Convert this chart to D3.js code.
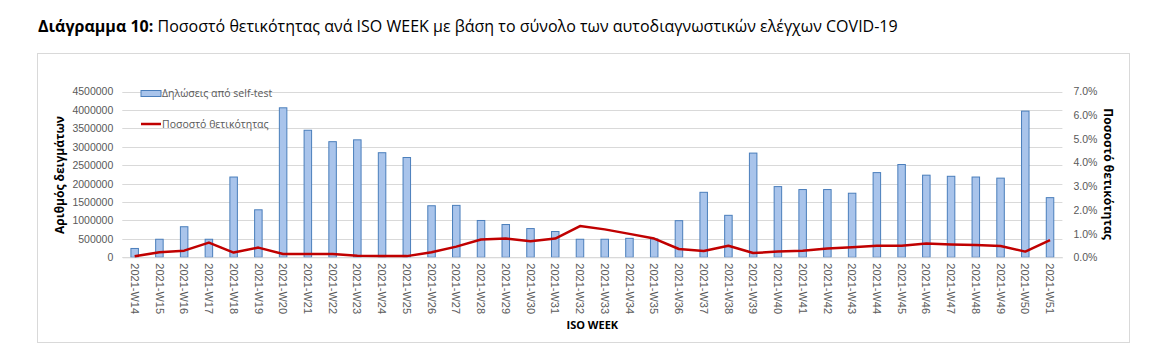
<!DOCTYPE html>
<html lang="el">
<head>
<meta charset="utf-8">
<script src="https://d3js.org/d3.v7.min.js"></script>
<style>
  body { margin: 0; background: #fff; }
  svg { font-family: "Open Sans", sans-serif; }
  .tick text { fill: #595959; font-size: 10.5px; }
  .grid line { stroke: #d9d9d9; }
</style>
</head>
<body>
<svg id="chart" width="1161" height="359"></svg>
<script>
// weeks on the x axis
var weeks = ["2021-W14","2021-W15","2021-W16","2021-W17","2021-W18","2021-W19","2021-W20","2021-W21",
  "2021-W22","2021-W23","2021-W24","2021-W25","2021-W26","2021-W27","2021-W28","2021-W29","2021-W30",
  "2021-W31","2021-W32","2021-W33","2021-W34","2021-W35","2021-W36","2021-W37","2021-W38","2021-W39",
  "2021-W40","2021-W41","2021-W42","2021-W43","2021-W44","2021-W45","2021-W46","2021-W47","2021-W48",
  "2021-W49","2021-W50","2021-W51"];

// self-test declarations (bars, left axis)
var selfTests = [240000,490000,830000,490000,2180000,1290000,4060000,3450000,
  3140000,3190000,2840000,2710000,1400000,1410000,1000000,890000,780000,
  700000,490000,490000,515000,500000,995000,1765000,1140000,2830000,
  1920000,1840000,1840000,1740000,2300000,2520000,2230000,2200000,2180000,
  2150000,3970000,1620000];

// positivity rate (line, right axis)
var positivity = [0.0004,0.0021,0.0028,0.0062,0.0020,0.0041,0.0014,0.0014,
  0.0014,0.0007,0.0005,0.0005,0.0021,0.0045,0.0075,0.0079,0.0068,
  0.0079,0.0132,0.0118,0.0099,0.0079,0.0035,0.0027,0.0049,0.0018,
  0.0024,0.0028,0.0037,0.0042,0.0049,0.0049,0.0058,0.0054,0.0052,
  0.0048,0.0024,0.0073];

var leftTicks = d3.range(0, 4500001, 500000);
var rightTicks = [0,0.01,0.02,0.03,0.04,0.05,0.06,0.07];

var titleBold = "Διάγραμμα 10:";
var titleRest = " Ποσοστό θετικότητας ανά ISO WEEK με βάση το σύνολο των αυτοδιαγνωστικών ελέγχων COVID-19";

// plot area (window.top is reserved, so no plain "top")
var plotLeft = 122.3, plotRight = 1062.4, plotTop = 91.6, plotBottom = 257.3;

var svg = d3.select("#chart");

// title
var title = svg.append("text")
  .attr("x", 38).attr("y", 32)
  .attr("fill", "#000")
  .style("font-size", "15px");
title.append("tspan").attr("font-weight", "bold").text(titleBold);
title.append("tspan").text(titleRest);
// squeeze font size so the title ends where the reference one does
var tw = title.node().getComputedTextLength();
title.style("font-size", (15 * 860 / tw) + "px");

// chart frame
svg.append("rect")
  .attr("x", 37.5).attr("y", 53.5)
  .attr("width", 1092).attr("height", 289)
  .attr("fill", "none").attr("stroke", "#d9d9d9");

var x = d3.scaleBand().domain(weeks).range([plotLeft, plotRight]);
var y = d3.scaleLinear().domain([0, 4500000]).range([plotBottom, plotTop]);
var y2 = d3.scaleLinear().domain([0, 0.07]).range([plotBottom, plotTop]);

// gridlines
svg.append("g").attr("class", "grid")
  .selectAll("line").data(leftTicks).enter().append("line")
  .attr("x1", plotLeft).attr("x2", plotRight)
  .attr("y1", function(d) { return Math.round(y(d)) + 0.5; })
  .attr("y2", function(d) { return Math.round(y(d)) + 0.5; });

// left axis
var yAxis = svg.append("g")
  .attr("transform", "translate(" + plotLeft + ",0)")
  .call(d3.axisLeft(y).tickValues(leftTicks).tickSize(0).tickPadding(9).tickFormat(d3.format("d")));
yAxis.select(".domain").remove();

// right axis
var y2Axis = svg.append("g")
  .attr("transform", "translate(" + plotRight + ",0)")
  .call(d3.axisRight(y2).tickValues(rightTicks).tickSize(0).tickPadding(11).tickFormat(d3.format(".1%")));
y2Axis.select(".domain").remove();

// bars
var barW = 7.5;
svg.append("g")
  .selectAll("rect").data(selfTests).enter().append("rect")
  .attr("x", function(d, i) { return x(weeks[i]) + x.bandwidth() / 2 - barW / 2; })
  .attr("y", function(d) { return y(d); })
  .attr("width", barW)
  .attr("height", function(d) { return plotBottom - y(d); })
  .attr("fill", "#a9c4eb")
  .attr("stroke", "#4a7ebb")
  .attr("stroke-width", 1);

// x axis
var xAxis = svg.append("g")
  .attr("transform", "translate(0," + plotBottom + ")")
  .call(d3.axisBottom(x).tickSize(0).tickPadding(0));
xAxis.select(".domain").attr("stroke", "#d9d9d9");
xAxis.selectAll(".tick text")
  .attr("transform", "rotate(90)")
  .attr("text-anchor", "start")
  .attr("dy", "0.35em")
  .attr("x", 6)
  .attr("y", 0)
  .style("font-size", "11px");

// positivity line
var line = d3.line()
  .x(function(d, i) { return x(weeks[i]) + x.bandwidth() / 2; })
  .y(function(d) { return y2(d); });

svg.append("path")
  .datum(positivity)
  .attr("d", line)
  .attr("fill", "none")
  .attr("stroke", "#c00000")
  .attr("stroke-width", 2.5)
  .attr("stroke-linejoin", "round");

// axis titles
svg.append("text")
  .attr("transform", "translate(64,175) rotate(-90)")
  .attr("text-anchor", "middle")
  .attr("font-weight", "bold")
  .style("font-size", "12px")
  .text("Αριθμός δειγμάτων");

svg.append("text")
  .attr("transform", "translate(1104,174) rotate(90)")
  .attr("text-anchor", "middle")
  .attr("font-weight", "bold")
  .style("font-size", "12px")
  .text("Ποσοστό θετικότητας");

svg.append("text")
  .attr("x", (plotLeft + plotRight) / 2).attr("y", 329)
  .attr("text-anchor", "middle")
  .attr("font-weight", "bold")
  .style("font-size", "11px")
  .text("ISO WEEK");

// legend
var legend = svg.append("g").style("font-size", "10.5px").attr("fill", "#595959");
legend.append("rect")
  .attr("x", 141).attr("y", 90.5).attr("width", 20).attr("height", 6)
  .attr("fill", "#a9c4eb").attr("stroke", "#4a7ebb");
legend.append("text").attr("x", 162).attr("y", 93.5).attr("dy", "0.35em").text("Δηλώσεις από self-test");
legend.append("line")
  .attr("x1", 141).attr("x2", 161).attr("y1", 124).attr("y2", 124)
  .attr("stroke", "#c00000").attr("stroke-width", 2.5);
legend.append("text").attr("x", 162).attr("y", 124).attr("dy", "0.35em").text("Ποσοστό θετικότητας");
</script>
</body>
</html>
